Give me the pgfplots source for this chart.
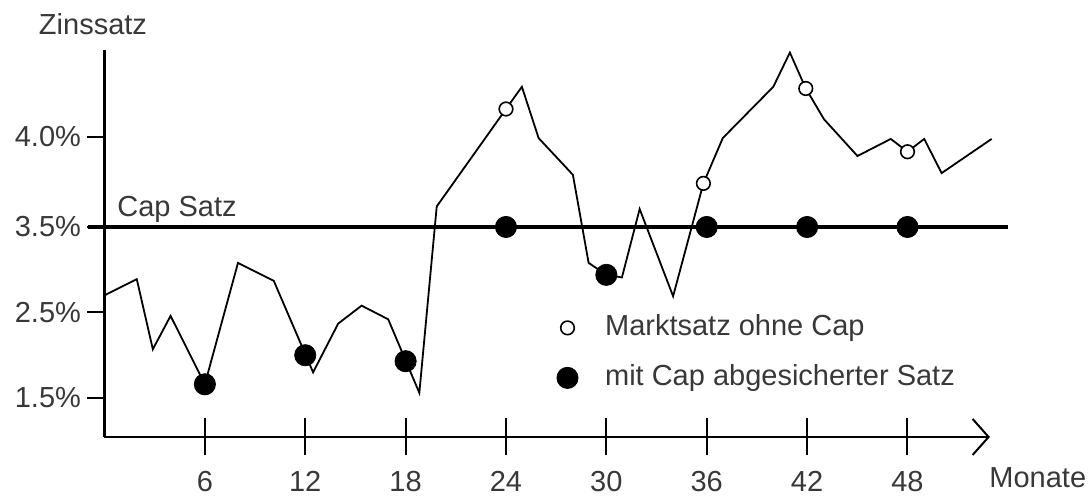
\documentclass[border=0pt]{standalone}
\usepackage{fontspec}
\setmainfont{Liberation Sans}
\usepackage{pgfplots}
\usepackage{pgfplotstable}
\pgfplotsset{compat=1.18}
\usetikzlibrary{arrows.meta}

\definecolor{txt}{gray}{0.22}

% market rate path (month, rate position)
\pgfplotstableread{
m u
0     2.70
1.93  2.89
2.89  2.07
3.95  2.46
6.00  1.66
7.98  3.08
10.12 2.87
12.47 1.80
13.97 2.37
15.37 2.58
16.96 2.42
18.82 1.56
19.86 3.74
24.00 4.88
24.95 5.14
25.95 4.54
28.00 4.11
28.94 3.08
30.00 2.94
30.93 2.91
31.99 3.71
33.99 2.69
35.80 4.01
36.96 4.54
39.98 5.14
40.97 5.54
41.92 5.12
43.01 4.76
45.01 4.33
47.00 4.53
48.00 4.38
49.00 4.53
50.04 4.13
53.03 4.53
}\marktsatz

% market rate without cap, at the fixing dates above the cap
\pgfplotstableread{
m u
24.00 4.88
35.80 4.01
41.92 5.12
48.00 4.38
}\ohnecap

% rate paid with the cap: min(market, cap)
\pgfplotstableread{
m u
6  1.66
12 2.00
18 1.93
24 3.50
30 2.94
36 3.50
42 3.50
48 3.50
}\mitcap

\begin{document}
\begin{tikzpicture}
\fontsize{14.5}{17}\selectfont
\begin{axis}[
  x=8.365pt, y=42.75pt,
  xmin=0, xmax=52.93, ymin=1.044, ymax=5.57,
  axis lines=left,
  clip=false,
  axis line style={line width=1.2pt, black},
  x axis line style={-{Straight Barb[length=8pt,width=18pt,line width=1pt]}},
  y axis line style={-},
  tick align=center,
  major tick length=18.5pt,
  tick style={line width=1pt, black},
  xtick={6,12,18,24,30,36,42,48},
  ytick=\empty,
  extra y ticks={1.5,2.5,3.5,4.553},
  extra y tick labels={1.5\%,2.5\%,3.5\%,4.0\%},
  extra y tick style={tick align=outside, major tick length=8.5pt,
    yticklabel style={xshift=1.75pt}},
  /pgf/number format/assume math mode=true,
  tick label style={font=\fontsize{14.5}{17}\selectfont, text=txt},
  xticklabel style={yshift=-2.75pt},
  xlabel={Monate},
  ylabel={Zinssatz},
  every axis x label/.style={at={(axis description cs:1.054,-0.106)}, anchor=center,
    inner sep=0pt, text=txt},
  every axis y label/.style={at={(axis description cs:-0.013,1.067)}, anchor=center,
    inner sep=0pt, text=txt},
  legend style={at={(axis cs:27.02,2.535)}, anchor=north west, draw=none, fill=none,
    inner sep=0pt, row sep=7pt, font=\fontsize{14.5}{17}\selectfont, text=txt,
    nodes={inner sep=2pt, text height=11pt, text depth=3pt}},
  legend cell align=left,
  /tikz/every odd column/.append style={column sep=11.5pt},
]
% overall picture extent
\path (axis cs:-6.246,0.389) rectangle (axis cs:58.85,6.155);

\addplot[black, line width=0.9pt, mark=none, forget plot] table[x=m, y=u] {\marktsatz};
\addplot[black, line width=2.2pt, mark=none, forget plot] coordinates {(-1,3.5) (54,3.5)};
\addplot[only marks, mark=*, mark size=3.4pt, mark options={fill=white, draw=black, line width=0.8pt}] table[x=m, y=u] {\ohnecap};
\addlegendentry{Marktsatz ohne Cap}
\addplot[only marks, mark=*, mark size=5.3pt, mark options={fill=black, draw=black}] table[x=m, y=u] {\mitcap};
\addlegendentry{mit Cap abgesicherter Satz}

\node[anchor=base west, text=txt] at (axis cs:0.17,3.617) {Cap Satz};
\end{axis}
\end{tikzpicture}
\end{document}
